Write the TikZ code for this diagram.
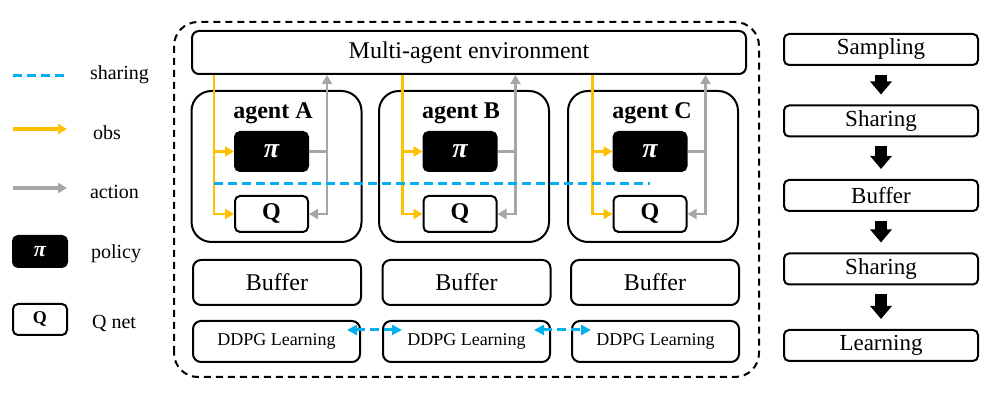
\documentclass[tikz,border=0pt]{standalone}
\usepackage{fontspec}
\setmainfont{Liberation Serif}
\usetikzlibrary{arrows.meta,calc}
\definecolor{obsyellow}{HTML}{FFC000}
\definecolor{actgray}{HTML}{A6A6A6}
\definecolor{shareblue}{HTML}{00B0F0}

\begin{document}
\begin{tikzpicture}[x=0.5pt,y=0.5pt,
		box/.style={draw, line width=1pt, rounded corners=4pt, inner sep=0pt},
		agentbox/.style={box, rounded corners=10pt, minimum width=85pt, minimum height=75.5pt},
		policy/.style={box, fill=black, text=white, rounded corners=2.5pt, minimum width=36.5pt, minimum height=19.5pt, font=\fontsize{14}{16}\selectfont\bfseries\itshape},
		qnet/.style={box, rounded corners=2.5pt, minimum width=36.5pt, minimum height=18pt, font=\fontsize{12}{14}\selectfont\bfseries},
		bufbox/.style={box, minimum width=84pt, minimum height=22.5pt, font=\fontsize{12}{14}\selectfont},
		ddpg/.style={box, minimum width=83.5pt, minimum height=20.5pt, font=\fontsize{9}{11}\selectfont},
		flowbox/.style={box, rounded corners=2.5pt, minimum width=97pt, minimum height=15.5pt, font=\fontsize{11.5}{13}\selectfont},
		agentlabel/.style={font=\fontsize{12}{14}\selectfont\bfseries},
		obs/.style={draw=obsyellow, line width=1.4pt, -{Triangle[length=4.5pt,width=5pt]}},
		act/.style={draw=actgray, line width=1.4pt},
		share/.style={draw=shareblue, line width=1.5pt, dash pattern=on 4.5pt off 2.5pt},
		flowarr/.style={line width=6pt, -{Triangle[length=6.5pt,width=10.5pt]}, shorten <=4.5pt, shorten >=5pt},
		legend/.style={anchor=west, font=\fontsize{10}{12}\selectfont}]
		\useasboundingbox (0,0) rectangle (1000,401);

		% draw the dashed frame and the environment
		\draw[line width=1pt, dash pattern=on 3.5pt off 2.5pt, rounded corners=12pt] (174,24) rectangle (759,379);
		\node[box, rounded corners=3.5pt, minimum width=277pt, minimum height=21.5pt, font=\fontsize{12}{14}\selectfont] (env) at (469,348.5) {Multi-agent environment};

		% draw the three agents
		\node[agentbox] (agA) at (276.5,234.5) {};
		\node[agentlabel] (labA) at (273,288) {agent A};
		\node[policy] (piA) at (271.5,249.5) {π};
		\node[qnet] (qA) at (271.5,187) {Q};

		\node[agentbox] (agB) at (464,234.5) {};
		\node[agentlabel] (labB) at (461,288) {agent B};
		\node[policy] (piB) at (460,249.5) {π};
		\node[qnet] (qB) at (460,187) {Q};

		\node[agentbox] (agC) at (653,234.5) {};
		\node[agentlabel] (labC) at (652,288) {agent C};
		\node[policy] (piC) at (650,249.5) {π};
		\node[qnet] (qC) at (650,187) {Q};

		% draw the obs and action lines of each agent
		\coordinate (oA) at ([xshift=-10pt]piA.west);
		\coordinate (aA) at ([xshift=9pt]piA.east);
		\draw[obs] (oA |- env.south) -- (oA |- qA.west) -- (qA.west);
		\draw[obs] (oA) -- (piA.west);
		\draw[act] (piA.east) -- (aA);
		\draw[act, {Triangle[length=4.5pt,width=5pt]}-{Triangle[length=4.5pt,width=5pt]}] (qA.east) -- (aA |- qA.east) -- (aA |- env.south);

		\coordinate (oB) at ([xshift=-10pt]piB.west);
		\coordinate (aB) at ([xshift=9pt]piB.east);
		\draw[obs] (oB |- env.south) -- (oB |- qB.west) -- (qB.west);
		\draw[obs] (oB) -- (piB.west);
		\draw[act] (piB.east) -- (aB);
		\draw[act, {Triangle[length=4.5pt,width=5pt]}-{Triangle[length=4.5pt,width=5pt]}] (qB.east) -- (aB |- qB.east) -- (aB |- env.south);

		\coordinate (oC) at ([xshift=-10pt]piC.west);
		\coordinate (aC) at ([xshift=9pt]piC.east);
		\draw[obs] (oC |- env.south) -- (oC |- qC.west) -- (qC.west);
		\draw[obs] (oC) -- (piC.west);
		\draw[act] (piC.east) -- (aC);
		\draw[act, {Triangle[length=4.5pt,width=5pt]}-{Triangle[length=4.5pt,width=5pt]}] (qC.east) -- (aC |- qC.east) -- (aC |- env.south);

		% draw the sharing line through the agents
		\coordinate (mid) at ($(piA.south)!0.5!(qA.north)$);
		\draw[share] (oA |- mid) -- (qC |- mid);

		% draw the buffers and the learners
		\node[bufbox] (bufA) at (277,118.5) {Buffer};
		\node[bufbox] (bufB) at (466.5,118.5) {Buffer};
		\node[bufbox] (bufC) at (655,118.5) {Buffer};
		\node[ddpg] (ddpgA) at (276.5,59.5) {DDPG Learning};
		\node[ddpg] (ddpgB) at (466.5,59.5) {DDPG Learning};
		\node[ddpg] (ddpgC) at (655.5,59.5) {DDPG Learning};
		\draw[share, {Triangle[length=5pt,width=5pt]}-{Triangle[length=5pt,width=5pt]}] ([xshift=-7pt,yshift=-5pt]ddpgA.north east) -- ([xshift=10pt,yshift=-5pt]ddpgB.north west);
		\draw[share, {Triangle[length=5pt,width=5pt]}-{Triangle[length=5pt,width=5pt]}] ([xshift=-8.5pt,yshift=-5pt]ddpgB.north east) -- ([xshift=10pt,yshift=-5pt]ddpgC.north west);

		% draw the legend
		\draw[share] (13,325) -- (67,325);
		\node[legend] (lshare) at (83,326) {sharing};
		\draw[obs, line width=1.6pt] (13,272) -- (67,272);
		\node[legend] (lobs) at (86,268) {obs};
		\draw[act, line width=1.6pt, -{Triangle[length=4.5pt,width=5pt]}] (13,213) -- (67,213);
		\node[legend] (lact) at (83,209) {action};
		\node[policy, minimum width=27pt, minimum height=15.5pt, font=\fontsize{11}{13}\selectfont\bfseries\itshape] (lpi) at (40,149.5) {π};
		\node[legend] (lpol) at (84,147) {policy};
		\node[qnet, minimum width=27pt, minimum height=15.5pt, font=\fontsize{9}{11}\selectfont\bfseries] (lq) at (40,81.5) {Q};
		\node[legend] (lqnet) at (85,77) {Q net};

		% draw the steps on the right
		\node[flowbox] (fsamp) at (881,351.5) {Sampling};
		\node[flowbox] (fshare1) at (881,280) {Sharing};
		\node[flowbox] (fbuf) at (881,205.5) {Buffer};
		\node[flowbox] (fshare2) at (881,132) {Sharing};
		\node[flowbox] (flearn) at (881,55.5) {Learning};
		\draw[flowarr] (fsamp) -- (fshare1);
		\draw[flowarr] (fshare1) -- (fbuf);
		\draw[flowarr] (fbuf) -- (fshare2);
		\draw[flowarr] (fshare2) -- (flearn);
	\end{tikzpicture}
\end{document}
